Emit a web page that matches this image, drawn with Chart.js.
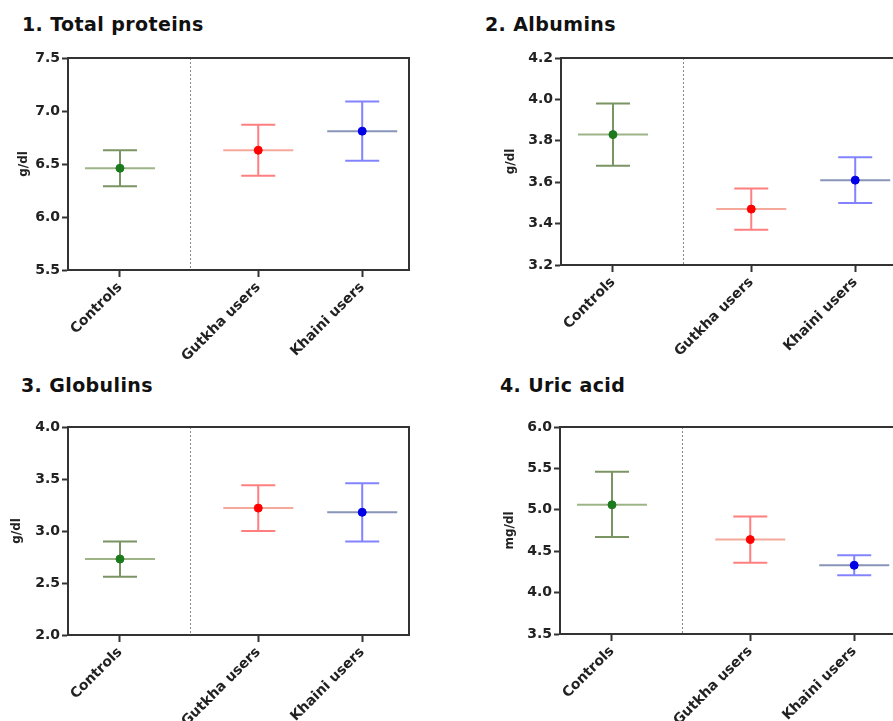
<!DOCTYPE html>
<html>
<head>
<meta charset="utf-8">
<script src="https://cdn.jsdelivr.net/npm/chart.js@4"></script>
<style>
  body { margin: 0; background: #fff; }
  #page { position: relative; width: 893px; height: 721px; overflow: hidden; }
  canvas { position: absolute; }
  .title { position: absolute; font: bold 19px "DejaVu Sans"; line-height: 19px; color: #111; letter-spacing: 0.4px; white-space: nowrap; }
</style>
</head>
<body>
<div id="page">
  <div class="title" style="left:22px;top:15px">1. Total proteins</div>
  <div class="title" style="left:485px;top:15px">2. Albumins</div>
  <div class="title" style="left:21px;top:376px">3. Globulins</div>
  <div class="title" style="left:500px;top:376px">4. Uric acid</div>
  <canvas id="c1" width="420" height="360" style="left:0;top:0"></canvas>
  <canvas id="c2" width="445" height="360" style="left:470px;top:0"></canvas>
  <canvas id="c3" width="420" height="361" style="left:0;top:360px"></canvas>
  <canvas id="c4" width="445" height="361" style="left:470px;top:360px"></canvas>
</div>
<script>
// groups and their values (mean with lower / upper error bar ends)
const GROUPS = ['Controls', 'Gutkha users', 'Khaini users'];

const PROTEIN_MEAN = [6.46, 6.63, 6.81];
const PROTEIN_LOW  = [6.29, 6.39, 6.53];
const PROTEIN_HIGH = [6.63, 6.87, 7.09];

const ALBUMIN_MEAN = [3.83, 3.47, 3.61];
const ALBUMIN_LOW  = [3.68, 3.37, 3.50];
const ALBUMIN_HIGH = [3.98, 3.57, 3.72];

const GLOBULIN_MEAN = [2.73, 3.22, 3.18];
const GLOBULIN_LOW  = [2.56, 3.00, 2.90];
const GLOBULIN_HIGH = [2.90, 3.44, 3.46];

const URIC_MEAN = [5.06, 4.64, 4.33];
const URIC_LOW  = [4.67, 4.36, 4.21];
const URIC_HIGH = [5.46, 4.92, 4.45];

// layout of the x axis (Prism style gap after the control group)
const XPOS = [0.5, 1.83, 2.83];
const X_DIVIDER = 1.17;
const X_MAX = 3.28;

const ERR_COLORS  = ['#7b9463', '#ff7f7f', '#8383ff'];
const MEAN_COLORS = ['#9db487', '#f4a99a', '#8894b8'];
const DOT_COLORS  = ['#1b7a1b', '#ff0000', '#0000e6'];

Chart.defaults.font.family = '"DejaVu Sans", sans-serif';
Chart.defaults.font.weight = 'bold';
Chart.defaults.animation = false;

const PANELS = [
  { id: 'c1', mean: PROTEIN_MEAN, low: PROTEIN_LOW, high: PROTEIN_HIGH, yMin: 5.5, yMax: 7.5, step: 0.5,
    unit: 'g/dl', titlePad: 17, padTop: 58, padRight: 11, yWidth: 68, xHeight: 90 },
  { id: 'c2', mean: ALBUMIN_MEAN, low: ALBUMIN_LOW, high: ALBUMIN_HIGH, yMin: 3.2, yMax: 4.2, step: 0.2,
    unit: 'g/dl', titlePad: 34, padTop: 58, padRight: 13, yWidth: 91, xHeight: 95 },
  { id: 'c3', mean: GLOBULIN_MEAN, low: GLOBULIN_LOW, high: GLOBULIN_HIGH, yMin: 2.0, yMax: 4.0, step: 0.5,
    unit: 'g/dl', titlePad: 10, padTop: 67, padRight: 11, yWidth: 68, xHeight: 86 },
  { id: 'c4', mean: URIC_MEAN, low: URIC_LOW, high: URIC_HIGH, yMin: 3.5, yMax: 6.0, step: 0.5,
    unit: 'mg/dl', titlePad: 33, padTop: 67, padRight: 14, yWidth: 90, xHeight: 87 },
];

const framePlugin = {
  id: 'frame',
  beforeDatasetsDraw(chart) {
    const { ctx, chartArea } = chart;
    const x = chart.scales.x.getPixelForValue(X_DIVIDER);
    ctx.save();
    ctx.strokeStyle = '#888';
    ctx.lineWidth = 1;
    ctx.setLineDash([2, 2]);
    ctx.beginPath();
    ctx.moveTo(Math.round(x) + 0.5, chartArea.top);
    ctx.lineTo(Math.round(x) + 0.5, chartArea.bottom);
    ctx.stroke();
    ctx.restore();
  },
  afterDraw(chart) {
    const { ctx, chartArea } = chart;
    ctx.save();
    ctx.strokeStyle = '#333';
    ctx.lineWidth = 2;
    ctx.strokeRect(chartArea.left, chartArea.top, chartArea.right - chartArea.left, chartArea.bottom - chartArea.top);
    ctx.restore();
  }
};

function buildDatasets(p) {
  const sets = [];
  GROUPS.forEach((g, i) => {
    const x = XPOS[i];
    sets.push({ label: g + ' sd', data: [{ x, y: p.low[i] }, { x, y: p.high[i] }], showLine: true,
      borderColor: ERR_COLORS[i], borderWidth: 2, pointRadius: 0, order: 2 });
    sets.push({ label: g + ' caps', data: [{ x, y: p.low[i] }, { x, y: p.high[i] }],
      pointStyle: 'line', pointRadius: 17, pointBorderColor: ERR_COLORS[i], pointBorderWidth: 2, order: 2 });
    sets.push({ label: g + ' mean line', data: [{ x, y: p.mean[i] }],
      pointStyle: 'line', pointRadius: 35, pointBorderColor: MEAN_COLORS[i], pointBorderWidth: 2, order: 1 });
    sets.push({ label: g, data: [{ x, y: p.mean[i] }], pointStyle: 'circle', pointRadius: 4,
      pointBackgroundColor: DOT_COLORS[i], pointBorderColor: DOT_COLORS[i], pointBorderWidth: 1, order: 0 });
  });
  return sets;
}

PANELS.forEach(p => {
  new Chart(document.getElementById(p.id), {
    type: 'scatter',
    data: { datasets: buildDatasets(p) },
    options: {
      responsive: false,
      layout: { autoPadding: false, padding: { top: p.padTop, right: p.padRight, left: 0, bottom: 0 } },
      plugins: { legend: { display: false }, tooltip: { enabled: false } },
      scales: {
        x: {
          type: 'linear', min: 0, max: X_MAX,
          afterBuildTicks(scale) { scale.ticks = XPOS.map(v => ({ value: v })); },
          afterFit(scale) { scale.height = p.xHeight; scale.paddingLeft = 0; scale.paddingRight = 0; },
          ticks: { autoSkip: false, minRotation: 45, maxRotation: 45, padding: 2, color: '#222',
            font: { size: 14, weight: 'bold' }, callback: (v, i) => GROUPS[i] },
          grid: { drawOnChartArea: false, tickLength: 7, tickWidth: 2, tickColor: '#333' },
          border: { color: '#333', width: 2 }
        },
        y: {
          min: p.yMin, max: p.yMax,
          afterFit(scale) { scale.width = p.yWidth; scale.paddingTop = 0; scale.paddingBottom = 0; },
          ticks: { stepSize: p.step, padding: 2, color: '#222', font: { size: 14, weight: 'bold' },
            callback: v => v.toFixed(1) },
          grid: { drawOnChartArea: false, tickLength: 6, tickWidth: 2, tickColor: '#333' },
          border: { color: '#333', width: 2 },
          title: { display: true, text: p.unit, color: '#222', font: { size: 12, weight: 'bold' },
            padding: { top: p.titlePad, bottom: 0 } }
        }
      }
    },
    plugins: [framePlugin]
  });
});
</script>
</body>
</html>
